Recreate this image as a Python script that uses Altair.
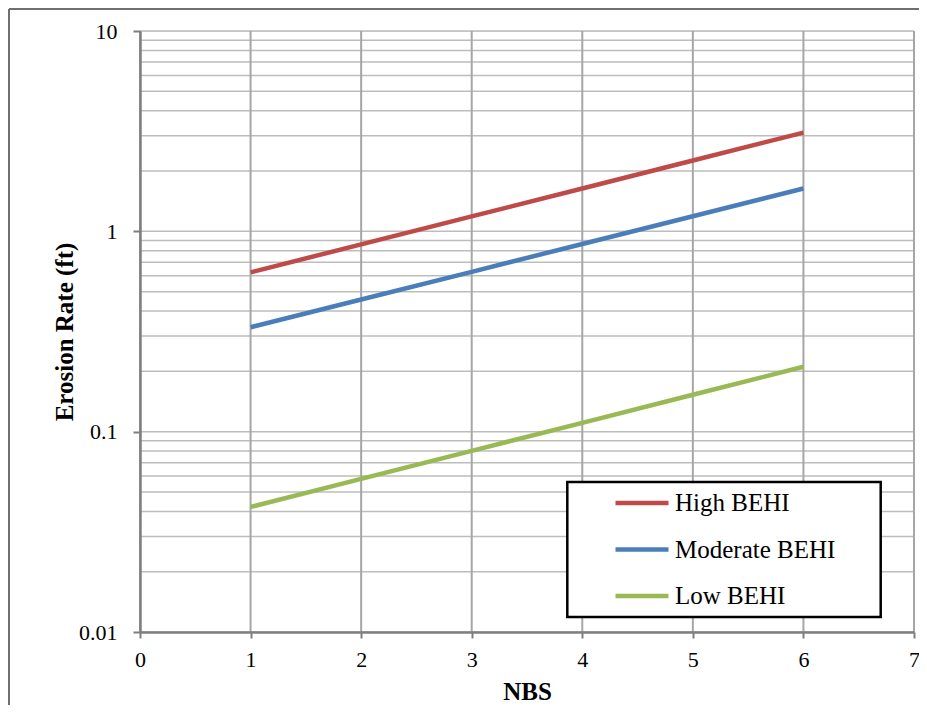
import altair as alt
import pandas as pd

# ---- data ----
nbs = [1, 2, 3, 4, 5, 6]
high_behi = [0.624, 0.861, 1.187, 1.637, 2.258, 3.11]
moderate_behi = [0.332, 0.457, 0.628, 0.865, 1.19, 1.637]
low_behi = [0.0421, 0.0581, 0.0802, 0.1107, 0.1528, 0.211]
series_names = ["High BEHI", "Moderate BEHI", "Low BEHI"]
series_colors = ["#be4b48", "#4a7ebb", "#98b954"]

x_ticks = [0, 1, 2, 3, 4, 5, 6, 7]
y_major = [0.01, 0.1, 1, 10]
y_grid = [0.01, 0.02, 0.03, 0.04, 0.05, 0.06, 0.07, 0.08, 0.09,
          0.1, 0.2, 0.3, 0.4, 0.5, 0.6, 0.7, 0.8, 0.9,
          1, 2, 3, 4, 5, 6, 7, 8, 9, 10]

FONT = "Liberation Serif"
W, H = 774, 601

rows = []
for name, vals in zip(series_names, [high_behi, moderate_behi, low_behi]):
    for xv, yv in zip(nbs, vals):
        rows.append({"NBS": xv, "rate": yv, "series": name})
df = pd.DataFrame(rows)

xscale = alt.Scale(domain=[0, 7], nice=False, zero=False)
yscale = alt.Scale(type="log", domain=[0.01, 10], nice=False)

xaxis = alt.Axis(values=x_ticks, title="NBS", grid=False,
                 domainColor="#7f7f7f", domainWidth=2.5,
                 tickColor="#7f7f7f", tickWidth=2, tickSize=6,
                 labelFont=FONT, labelFontSize=22, labelColor="black",
                 labelPadding=11, labelFlush=False,
                 titleFont=FONT, titleFontSize=25, titleFontWeight="bold",
                 titleColor="black", titleBaseline="alphabetic",
                 titleY=67, zindex=1)
yaxis = alt.Axis(values=y_major, format="~g", title="Erosion Rate (ft)",
                 grid=False, domainColor="#7f7f7f", domainWidth=2.5,
                 tickColor="#7f7f7f", tickWidth=2, tickSize=7,
                 labelFont=FONT, labelFontSize=22, labelColor="black",
                 labelPadding=16, labelFlush=False,
                 titleFont=FONT, titleFontSize=25, titleFontWeight="bold",
                 titleColor="black", titleBaseline="middle",
                 titleX=-75.5, titleY=H / 2, titleAngle=270, zindex=1)

hgrid = alt.Chart(pd.DataFrame({"g": y_grid})).mark_rule(
    color="#bdbdbd", strokeWidth=1.5
).encode(y=alt.Y("g:Q", scale=yscale, axis=yaxis))

vgrid = alt.Chart(pd.DataFrame({"g": x_ticks})).mark_rule(
    color="#a6a6a6", strokeWidth=2
).encode(x=alt.X("g:Q", scale=xscale, axis=xaxis))

lines = alt.Chart(df).mark_line(strokeWidth=4.5).encode(
    x=alt.X("NBS:Q", scale=xscale, axis=xaxis),
    y=alt.Y("rate:Q", scale=yscale, axis=yaxis),
    color=alt.Color("series:N",
                    scale=alt.Scale(domain=series_names, range=series_colors),
                    legend=alt.Legend(title=None, orient="none",
                                      legendX=473, legendY=454,
                                      padding=0, symbolType="stroke",
                                      symbolSize=2809, symbolStrokeWidth=4.5,
                                      clipHeight=36, rowPadding=10.5,
                                      labelOffset=4, symbolOffset=0,
                                      labelFont=FONT, labelFontSize=25,
                                      labelColor="black", labelLimit=400)),
)

legend_box = alt.Chart(pd.DataFrame({"a": [0]})).mark_rect(
    fill="white", stroke="black", strokeWidth=2.5
).encode(x=alt.value(427.3), x2=alt.value(740.7),
         y=alt.value(451), y2=alt.value(586))

frame_left = alt.Chart(pd.DataFrame({"a": [0]})).mark_rule(
    color="#6f6f6f", strokeWidth=2
).encode(x=alt.value(-131), y=alt.value(-22), y2=alt.value(800))

frame_top = alt.Chart(pd.DataFrame({"a": [0]})).mark_rule(
    color="#6f6f6f", strokeWidth=2
).encode(y=alt.value(-22), x=alt.value(-131), x2=alt.value(900))

chart = alt.layer(hgrid, vgrid, lines, legend_box, frame_left, frame_top).properties(
    width=W, height=H,
    autosize=alt.AutoSizeParams(type="none"),
    padding={"left": 132, "top": 23, "right": 5, "bottom": 73},
).configure_view(stroke=None).configure(background="white")

chart.save("out.html", embed_options={"renderer": "svg", "actions": False})
